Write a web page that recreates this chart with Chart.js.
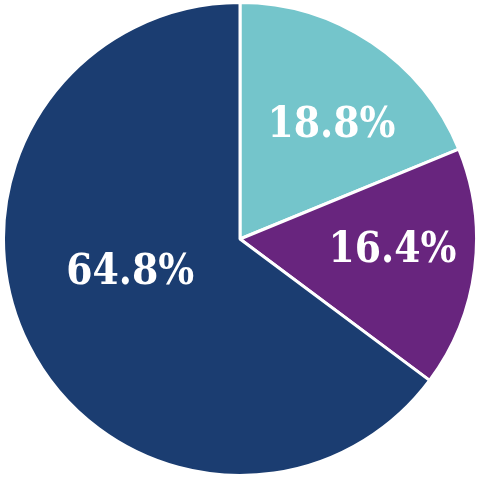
<!DOCTYPE html>
<html>
<head>
<meta charset="utf-8">
<script src="https://cdn.jsdelivr.net/npm/chart.js@4"></script>
<style>
  html, body { margin: 0; padding: 0; background: #fff; }
  #wrap { width: 479px; height: 478px; }
</style>
</head>
<body>
<div id="wrap"><canvas id="grafico"></canvas></div>
<script>
const categorias = ['A', 'B', 'C']
const valores = [18.8, 16.4, 64.8]
const cores = ['#74c5cb', '#68257e', '#1b3d71']

// ajuste de posicao dos rotulos: fracao do raio e desvio do angulo (graus)
const rotuloRaio = [0.63, 0.645, 0.48]
const rotuloDesvio = [4, -4.5, 12]

const rotulos = {
  id: 'rotulos',
  afterDatasetsDraw(chart) {
    const ctx = chart.ctx
    const meta = chart.getDatasetMeta(0)
    ctx.save()
    ctx.fillStyle = '#fff'
    ctx.font = 'bold 42px "DejaVu Serif Condensed", "DejaVu Serif", serif'
    ctx.textAlign = 'center'
    ctx.textBaseline = 'alphabetic'
    meta.data.forEach((arco, i) => {
      const p = arco.getProps(['x', 'y', 'startAngle', 'endAngle', 'outerRadius'])
      const ang = (p.startAngle + p.endAngle) / 2 + rotuloDesvio[i] * Math.PI / 180
      const r = p.outerRadius * rotuloRaio[i]
      const x = p.x + Math.cos(ang) * r
      const y = p.y + Math.sin(ang) * r
      ctx.fillText(valores[i].toFixed(1) + '%', x, y + 16)
    })
    ctx.restore()
  }
}

const grafico = new Chart(document.getElementById('grafico'), {
  type: 'pie',
  data: {
    labels: categorias,
    datasets: [{
      data: valores,
      backgroundColor: cores,
      borderColor: '#fff',
      borderWidth: 3
    }]
  },
  options: {
    responsive: true,
    maintainAspectRatio: false,
    animation: false,
    layout: { padding: { top: 1, bottom: 1, left: 2, right: 1 } },
    plugins: {
      legend: { display: false },
      tooltip: { enabled: false }
    }
  },
  plugins: [rotulos]
});
</script>
</body>
</html>
